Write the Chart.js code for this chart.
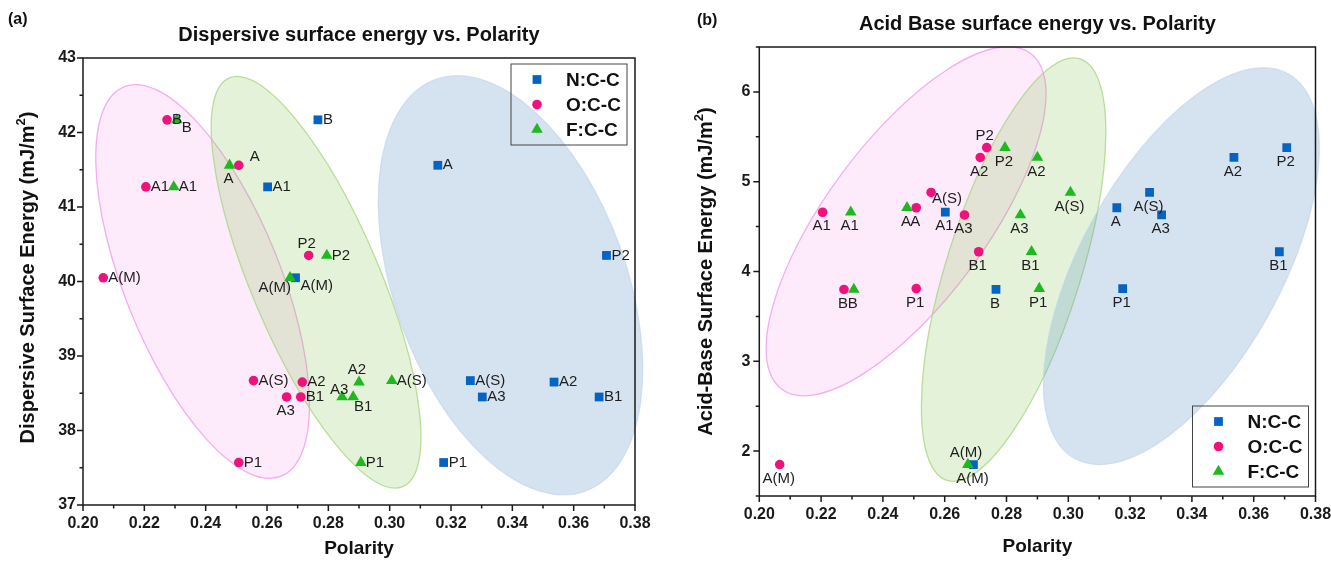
<!DOCTYPE html>
<html>
<head>
<meta charset="utf-8">
<script src="https://cdn.jsdelivr.net/npm/chart.js@4.4.1/dist/chart.umd.min.js"></script>
<style>
  html, body { margin: 0; padding: 0; background: #fff; overflow: hidden; width: 1331px; height: 563px; }
  #boxA { position: absolute; left: 0; top: 0; width: 665px; height: 563px; }
  #boxB { position: absolute; left: 665px; top: 0; width: 700px; height: 563px; }
</style>
</head>
<body>
<div id="boxA"><canvas id="chartA" width="665" height="563"></canvas></div>
<div id="boxB"><canvas id="chartB" width="700" height="563"></canvas></div>
<script>
// sample labels, same order in every series
const pointLabels = ['B', 'A', 'A1', 'P2', 'A(M)', 'A(S)', 'A2', 'A3', 'B1', 'P1'];
const seriesNames = ['N:C-C', 'O:C-C', 'F:C-C'];

// polarity (x) per series
const polarityN = [0.2766, 0.3157, 0.2602, 0.3707, 0.2693, 0.3263, 0.3536, 0.3302, 0.3683, 0.3176];
const polarityO = [0.2274, 0.2508, 0.2205, 0.2736, 0.2066, 0.2556, 0.2715, 0.2664, 0.2710, 0.2508];
const polarityF = [0.2306, 0.2478, 0.2296, 0.2795, 0.2675, 0.3007, 0.2900, 0.2845, 0.2881, 0.2906];

// (a) dispersive surface energy, mJ/m2
const dispersiveN = [42.17, 41.56, 41.27, 40.35, 40.05, 38.67, 38.65, 38.45, 38.45, 37.57];
const dispersiveO = [42.17, 41.56, 41.27, 40.35, 40.05, 38.67, 38.65, 38.45, 38.45, 37.57];
const dispersiveF = [42.17, 41.56, 41.27, 40.35, 40.05, 38.67, 38.65, 38.45, 38.45, 37.57];

// (b) acid-base surface energy, mJ/m2
const acidBaseN = [3.80, 4.71, 4.66, 5.38, 1.85, 4.88, 5.27, 4.63, 4.22, 3.81];
const acidBaseO = [3.80, 4.71, 4.66, 5.38, 1.85, 4.88, 5.27, 4.63, 4.22, 3.81];
const acidBaseF = [3.80, 4.71, 4.66, 5.38, 1.85, 4.88, 5.27, 4.63, 4.22, 3.81];

// axis ticks
const xTicks = [0.20, 0.22, 0.24, 0.26, 0.28, 0.30, 0.32, 0.34, 0.36, 0.38];
const yTicksA = [37, 38, 39, 40, 41, 42, 43];
const yTicksB = [2, 3, 4, 5, 6];

// label placement for each point (r = right, b = below, a = above ...)
const labelPosA = [
  ['r', 'r', 'r', 'r', 'rb', 'r', 'r', 'r', 'r', 'r'],
  ['r', 'ar', 'r', 'a', 'r', 'r', 'r', 'b', 'r', 'r'],
  ['rb', 'b', 'r', 'r', 'lb', 'r', 'a', 'al', 'br', 'r']
];
const labelPosB = [
  ['b', 'b', 'b', 'b', 'b', 'b', 'b', 'b', 'b', 'b'],
  ['b', 'b', 'b', 'a', 'b', 's', 'b', 'b', 'b', 'b'],
  ['b', 'b', 'b', 'b', 'a', 'b', 'b', 'b', 'b', 'b']
];
const labelOffsets = {
  r: [5, 0, 'left'], b: [-1, 14, 'center'], a: [-2, -12, 'center'],
  ar: [11, -8, 'left'], rb: [5, 8, 'left'], lb: [1, 10, 'right'],
  al: [-3, -7, 'center'], br: [10, 10, 'center'], s: [1, 6, 'left']
};

const FONT = '"Liberation Sans", Arial, Helvetica, sans-serif';
const colors = ['#0563C1', '#F0127B', '#1DBA1D'];
const styles = ['rect', 'circle', 'triangle'];
const radii = [6.2, 4.8, 6.7];

// shaded group ellipses: centre in data units, half axes in px
const ellipsesA = [
  { cx: 0.2390, cy: 40.00, rx: 78, ry: 210, rot: -22, fill: 'rgba(245,150,235,0.20)', stroke: 'rgba(240,150,235,0.75)' },
  { cx: 0.2760, cy: 39.99, rx: 64, ry: 222, rot: -23, fill: 'rgba(140,200,90,0.24)', stroke: 'rgba(170,215,130,0.8)' },
  { cx: 0.3394, cy: 39.95, rx: 116, ry: 219, rot: -20, fill: 'rgba(100,150,200,0.27)', stroke: 'rgba(190,210,235,0.6)' }
];
const ellipsesB = [
  { cx: 0.2475, cy: 4.56, rx: 80, ry: 209, rot: 36.5, fill: 'rgba(245,150,235,0.20)', stroke: 'rgba(240,150,235,0.75)' },
  { cx: 0.2823, cy: 4.02, rx: 67, ry: 221, rot: 17.5, fill: 'rgba(140,200,90,0.24)', stroke: 'rgba(170,215,130,0.8)' },
  { cx: 0.3366, cy: 4.06, rx: 100, ry: 220, rot: 29, fill: 'rgba(100,150,200,0.27)', stroke: 'rgba(190,210,235,0.6)' }
];

function marker(ctx, style, x, y, r, color) {
  ctx.fillStyle = color;
  ctx.beginPath();
  if (style === 'rect') {
    const s = r * Math.SQRT1_2;
    ctx.rect(x - s, y - s, 2 * s, 2 * s);
  } else if (style === 'circle') {
    ctx.arc(x, y, r, 0, Math.PI * 2);
  } else {
    ctx.moveTo(x, y - r);
    ctx.lineTo(x + r * 0.866, y + r / 2);
    ctx.lineTo(x - r * 0.866, y + r / 2);
    ctx.closePath();
  }
  ctx.fill();
}

function makeDecor(cfg) {
  return {
    id: 'decor',
    beforeDatasetsDraw(chart) {
      const ctx = chart.ctx;
      ctx.save();
      cfg.ellipses.forEach(e => {
        const px = chart.scales.x.getPixelForValue(e.cx);
        const py = chart.scales.y.getPixelForValue(e.cy);
        ctx.beginPath();
        ctx.ellipse(px, py, e.rx, e.ry, e.rot * Math.PI / 180, 0, Math.PI * 2);
        ctx.fillStyle = e.fill;
        ctx.fill();
        ctx.strokeStyle = e.stroke;
        ctx.lineWidth = 1.3;
        ctx.stroke();
      });
      ctx.restore();
    },
    afterDraw(chart) {
      const ctx = chart.ctx;
      const a = chart.chartArea;
      const xs = chart.scales.x, ys = chart.scales.y;
      ctx.save();

      // point labels
      ctx.font = '15px ' + FONT;
      ctx.fillStyle = '#1e1e1e';
      ctx.textBaseline = 'middle';
      chart.data.datasets.forEach((ds, i) => {
        chart.getDatasetMeta(i).data.forEach((el, j) => {
          const o = labelOffsets[cfg.labelPos[i][j]];
          ctx.textAlign = o[2];
          ctx.fillText(pointLabels[j], el.x + o[0], el.y + o[1]);
        });
      });

      // frame and tick marks
      ctx.strokeStyle = '#1a1a1a';
      ctx.lineWidth = 1.5;
      ctx.strokeRect(a.left, a.top, a.right - a.left, a.bottom - a.top);
      ctx.beginPath();
      for (let k = 0; k < xTicks.length; k++) {
        const p = xs.getPixelForValue(xTicks[k]);
        ctx.moveTo(p, a.bottom); ctx.lineTo(p, a.bottom + 6);
        if (k < xTicks.length - 1) {
          const m = xs.getPixelForValue((xTicks[k] + xTicks[k + 1]) / 2);
          ctx.moveTo(m, a.bottom); ctx.lineTo(m, a.bottom + 3.5);
        }
      }
      const yt = cfg.yTicks;
      const ymin = ys.min, ymax = ys.max;
      for (let k = 0; k < yt.length; k++) {
        const p = ys.getPixelForValue(yt[k]);
        ctx.moveTo(a.left, p); ctx.lineTo(a.left - 6, p);
      }
      for (let v = ymin; v <= ymax + 1e-9; v += 0.5) {
        if (yt.some(t => Math.abs(t - v) < 1e-9)) continue;
        const p = ys.getPixelForValue(v);
        ctx.moveTo(a.left, p); ctx.lineTo(a.left - 3.5, p);
      }
      ctx.stroke();

      // legend box
      const lg = cfg.legend;
      ctx.lineWidth = 1;
      ctx.strokeStyle = '#444';
      const bx = a.right - lg.right - 116, by = lg.top !== undefined ? a.top + lg.top : a.bottom - lg.bottom - 81;
      ctx.strokeRect(bx, by, 116, 81);
      ctx.font = 'bold 19px ' + FONT;
      ctx.textAlign = 'left';
      ctx.textBaseline = 'middle';
      seriesNames.forEach((n, i) => {
        const ry = by + 15.5 + i * 25;
        marker(ctx, styles[i], bx + 26, ry, radii[i], colors[i]);
        ctx.fillStyle = '#111';
        ctx.fillText(n, bx + 55, ry + 1);
      });

      // titles
      const cx = (a.left + a.right) / 2;
      ctx.fillStyle = '#111';
      ctx.textAlign = 'center';
      ctx.font = 'bold 20px ' + FONT;
      ctx.fillText(cfg.title, cx, cfg.titleY);
      ctx.font = 'bold 16px ' + FONT;
      ctx.textAlign = 'left';
      ctx.fillText(cfg.panel, cfg.panelX, cfg.panelY);
      ctx.textAlign = 'center';
      ctx.font = 'bold 19px ' + FONT;
      ctx.fillText('Polarity', cx, cfg.xTitleY);

      // rotated y title with superscript
      ctx.translate(cfg.yTitleX, (a.top + a.bottom) / 2 + cfg.yTitleShift);
      ctx.rotate(-Math.PI / 2);
      const big = 'bold 20px ' + FONT, small = 'bold 13px ' + FONT;
      ctx.font = big;
      const w1 = ctx.measureText(cfg.yTitle).width;
      const w3 = ctx.measureText(')').width;
      ctx.font = small;
      const w2 = ctx.measureText('2').width;
      let sx = -(w1 + w2 + w3) / 2;
      ctx.textAlign = 'left';
      ctx.font = big;
      ctx.fillText(cfg.yTitle, sx, 0);
      ctx.font = small;
      ctx.fillText('2', sx + w1, -7);
      ctx.font = big;
      ctx.fillText(')', sx + w1 + w2, 0);
      ctx.restore();
    }
  };
}

function buildChart(id, ys, yTicks, yMin, yMax, padding, yWidth, xHeight, yPad, cfg) {
  const xsAll = [polarityN, polarityO, polarityF];
  const datasets = seriesNames.map((name, i) => ({
    label: name,
    data: xsAll[i].map((x, j) => ({ x: x, y: ys[i][j] })),
    pointStyle: styles[i],
    pointRadius: radii[i],
    backgroundColor: colors[i],
    borderColor: colors[i],
    borderWidth: 0,
    order: 2 - i
  }));
  return new Chart(document.getElementById(id).getContext('2d'), {
    type: 'scatter',
    data: { datasets: datasets },
    options: {
      responsive: false,
      animation: false,
      devicePixelRatio: 1,
      layout: { padding: padding },
      plugins: { legend: { display: false }, tooltip: { enabled: false } },
      scales: {
        x: {
          type: 'linear', min: 0.20, max: 0.38,
          afterBuildTicks: s => { s.ticks = xTicks.map(v => ({ value: v })); },
          afterFit: s => { s.height = xHeight; },
          grid: { display: false, drawTicks: false },
          border: { display: false },
          ticks: {
            autoSkip: false, maxRotation: 0, padding: 9, color: '#1a1a1a',
            font: { family: FONT, size: 16, weight: 'bold' },
            callback: v => Number(v).toFixed(2)
          }
        },
        y: {
          type: 'linear', min: yMin, max: yMax,
          afterBuildTicks: s => { s.ticks = yTicks.map(v => ({ value: v })); },
          afterFit: s => { s.width = yWidth; },
          grid: { display: false, drawTicks: false },
          border: { display: false },
          ticks: {
            autoSkip: false, padding: yPad, color: '#1a1a1a',
            font: { family: FONT, size: 16, weight: 'bold' }
          }
        }
      }
    },
    plugins: [makeDecor(cfg)]
  });
}

buildChart('chartA', [dispersiveN, dispersiveO, dispersiveF], yTicksA, 37, 43,
  { left: 0, right: 30, top: 58, bottom: 0 }, 83, 58, 7, {
    ellipses: ellipsesA, labelPos: labelPosA, yTicks: yTicksA,
    legend: { right: 8, top: 6 },
    title: 'Dispersive surface energy vs. Polarity', titleY: 35,
    panel: '(a)', panelX: 8, panelY: 20, xTitleY: 549,
    yTitle: 'Dispersive Surface Energy (mJ/m', yTitleX: 28, yTitleShift: -4
  });

buildChart('chartB', [acidBaseN, acidBaseO, acidBaseF], yTicksB, 1.5, 6.5,
  { left: 0, right: 49.5, top: 47, bottom: 0 }, 94.3, 67, 9, {
    ellipses: ellipsesB, labelPos: labelPosB, yTicks: yTicksB,
    legend: { right: 7, bottom: 9 },
    title: 'Acid Base surface energy vs. Polarity', titleY: 24,
    panel: '(b)', panelX: 32, panelY: 21, xTitleY: 547,
    yTitle: 'Acid-Base Surface Energy (mJ/m', yTitleX: 41, yTitleShift: 0
  });
</script>
</body>
</html>
